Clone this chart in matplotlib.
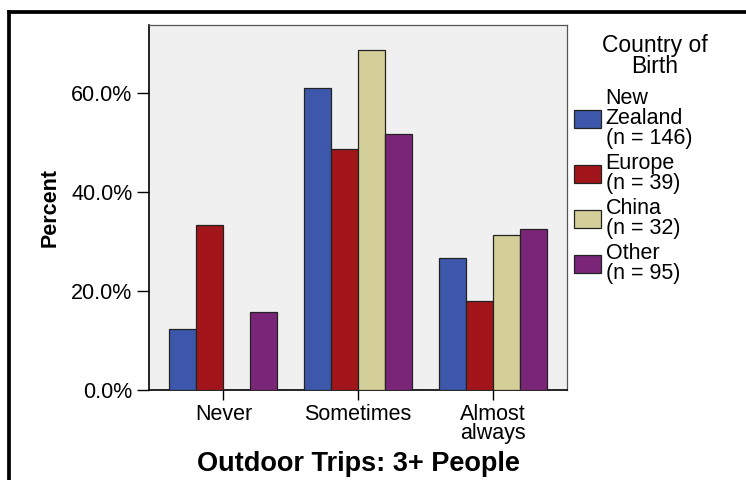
import numpy as np
import matplotlib.pyplot as plt
from matplotlib.lines import Line2D
from matplotlib.ticker import FuncFormatter

plt.rcParams['font.family'] = ['Liberation Sans', 'DejaVu Sans']

categories = ['Never', 'Sometimes', 'Almost\nalways']
groups = ['New\nZealand\n(n = 146)', 'Europe\n(n = 39)', 'China\n(n = 32)', 'Other\n(n = 95)']
nz = [12.3, 61.0, 26.7]
europe = [33.3, 48.7, 17.9]
china = [0.0, 68.75, 31.25]
other = [15.8, 51.6, 32.6]
colors = ['#3d58aa', '#a2161b', '#d4cf98', '#7b2579']

fs = 15.5

fig = plt.figure(figsize=(7.46, 4.8), dpi=100)
ax = fig.add_axes([0.2001, 0.1875, 0.5599, 0.7604])
ax.set_facecolor('#f0f0f0')

x = np.arange(len(categories))
width = 0.2
series = [nz, europe, china, other]
for i, (vals, col, lab) in enumerate(zip(series, colors, groups)):
    ax.bar(x + (i - 1.5) * width, vals, width, color=col, edgecolor='#222222',
           linewidth=0.9, label=lab, zorder=3)

ax.set_xlim(-0.55, 2.55)
ax.set_ylim(0, 73.7)
ax.set_yticks([0, 20, 40, 60])
ax.yaxis.set_major_formatter(FuncFormatter(lambda v, p: f'{v:.1f}%'))
ax.set_xticks(x)
ax.set_xticklabels(categories, linespacing=0.9)
ax.tick_params(axis='y', direction='out', length=9, width=1, labelsize=fs, pad=3)
ax.tick_params(axis='x', direction='out', length=7, width=1, labelsize=fs, pad=3)

for s in ['left', 'bottom']:
    ax.spines[s].set_color('black')
    ax.spines[s].set_linewidth(1.2)
for s in ['top', 'right']:
    ax.spines[s].set_color('#555555')
    ax.spines[s].set_linewidth(0.9)

ax.set_ylabel('Percent', fontsize=fs, fontweight='bold', labelpad=8)
ax.set_xlabel('Outdoor Trips: 3+ People', fontsize=19.5, fontweight='bold', labelpad=5)

leg = ax.legend(loc='upper left', bbox_to_anchor=(0.769, 0.817),
                bbox_transform=fig.transFigure, frameon=False,
                fontsize=fs, handlelength=1.25, handleheight=0.93,
                handletextpad=0.23, labelspacing=0.2, borderpad=0,
                borderaxespad=0)
for t in leg.get_texts():
    t.set_linespacing(0.93)
fig.text(0.878, 0.93, 'Country of\nBirth', fontsize=16.5, ha='center', va='top',
         multialignment='center', linespacing=0.9)

# outer frame (top and left)
fig.add_artist(Line2D([0.0115, 0.0115], [0, 0.976], transform=fig.transFigure,
                      color='black', linewidth=2.7, solid_capstyle='projecting'))
fig.add_artist(Line2D([0.0115, 1.0], [0.976, 0.976], transform=fig.transFigure,
                      color='black', linewidth=2.7, solid_capstyle='projecting'))

fig.savefig('out.png', dpi=100)
